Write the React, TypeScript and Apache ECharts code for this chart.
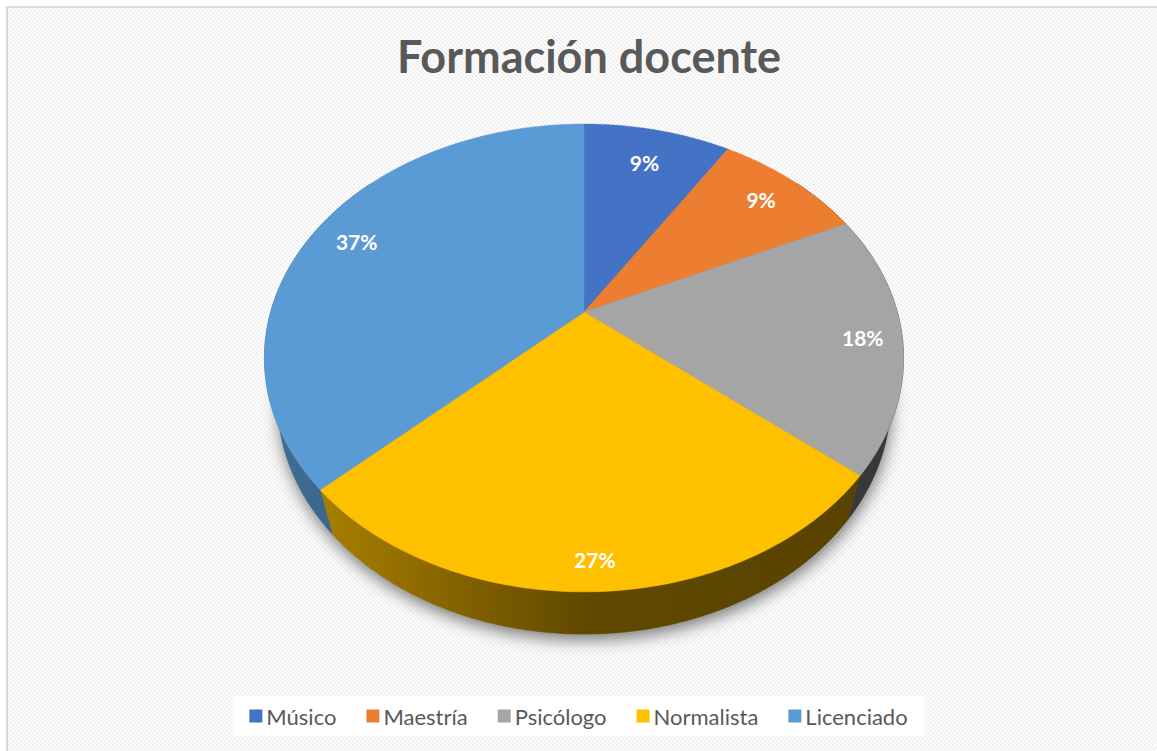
import React, { useEffect, useRef } from "react";
import * as echarts from "echarts";

// ---------- data ----------
const TITLE = "Formación docente";
const categories = ["Músico", "Maestría", "Psicólogo", "Normalista", "Licenciado"];
const values = [9, 9, 18, 27, 37];
const colors = ["#4472C4", "#ED7D31", "#A5A5A5", "#FFC000", "#5B9BD5"];

// ---------- 3D projection layout ----------
const CX = 584;
const CY = 312;
const FX = 1128;
const FY = 1145;
const DIST = 3.6;
const TILT = Math.PI / 4;
const THICK = 0.21;
const DEG = Math.PI / 180;

function project(r: number, phi: number, y: number): number[] {
  const x = r * Math.sin(phi);
  const z = r * Math.cos(phi);
  const ca = Math.cos(TILT);
  const sa = Math.sin(TILT);
  const yc = z * sa + y * ca;
  const depth = DIST + z * ca - y * sa;
  return [CX + (FX * x) / depth, CY - (FY * yc) / depth];
}

function arc(a0: number, a1: number, y: number): number[][] {
  const n = Math.max(2, Math.ceil((a1 - a0) / (0.5 * DEG)));
  const pts: number[][] = [];
  for (let k = 0; k <= n; k++) pts.push(project(1, a0 + ((a1 - a0) * k) / n, y));
  return pts;
}

function shade(hex: string, f: number): string {
  const n = parseInt(hex.slice(1), 16);
  const r = Math.round(((n >> 16) & 255) * f);
  const g = Math.round(((n >> 8) & 255) * f);
  const b = Math.round((n & 255) * f);
  return `rgb(${r},${g},${b})`;
}

const total = values.reduce((a, b) => a + b, 0);
const starts: number[] = [];
{
  let acc = 0;
  for (const v of values) {
    starts.push((acc / total) * 2 * Math.PI);
    acc += v;
  }
}

// striped background tile (4x4, diagonal "\" lines)
function stripeTile(): string {
  let rects = "";
  for (let y = 0; y < 4; y++) {
    for (let x = 0; x < 4; x++) {
      const m = (((x - y) % 4) + 4) % 4;
      if (m === 0 || m === 1) rects += `<rect x='${x}' y='${y}' width='1' height='1' fill='%23efefef'/>`;
    }
  }
  return `url("data:image/svg+xml;utf8,<svg xmlns='http://www.w3.org/2000/svg' width='4' height='4' shape-rendering='crispEdges'><rect width='4' height='4' fill='white'/>${rects}</svg>")`;
}

export default function App() {
  const ref = useRef<HTMLDivElement>(null);
  useEffect(() => {
    if (!ref.current) return;
    const chart = echarts.init(ref.current, undefined, { renderer: "svg" });

    const sliceRange = (i: number) => {
      const a0 = starts[i];
      const a1 = a0 + (values[i] / total) * 2 * Math.PI;
      return [a0, a1];
    };

    const shadowSeries: any = {
      type: "custom",
      name: "shadow",
      coordinateSystem: "none",
      z: 1,
      silent: true,
      data: [0],
      renderItem: () => {
        const pts = arc(0, 2 * Math.PI, -THICK);
        return {
          type: "polygon",
          shape: { points: pts },
          style: {
            fill: "#777",
            shadowBlur: 16,
            shadowOffsetY: 6,
            shadowOffsetX: 1,
            shadowColor: "rgba(0,0,0,0.5)",
          },
        };
      },
    };

    const sideSeries: any = {
      type: "custom",
      name: "sides",
      coordinateSystem: "none",
      z: 2,
      silent: true,
      data: values.map((v) => v),
      renderItem: (params: any) => {
        const i = params.dataIndex;
        let [a0, a1] = sliceRange(i);
        const lo = 50 * DEG;
        const hi = 310 * DEG;
        a0 = Math.max(a0, lo);
        a1 = Math.min(a1, hi);
        if (a1 <= a0) return { type: "group", children: [] };
        const top = arc(a0, a1, 0);
        const bot = arc(a0, a1, -THICK).reverse();
        const c = colors[i];
        const grad = new echarts.graphic.LinearGradient(
          265,
          0,
          903,
          0,
          [
            { offset: 0, color: shade(c, 0.72) },
            { offset: 0.5, color: shade(c, 0.38) },
            { offset: 1, color: shade(c, 0.34) },
          ],
          true
        );
        return {
          type: "polygon",
          shape: { points: top.concat(bot) },
          style: { fill: grad, stroke: grad, lineWidth: 0.6 },
        };
      },
    };

    const topSeries: any[] = categories.map((name, i) => ({
      type: "custom",
      name,
      coordinateSystem: "none",
      z: 3,
      itemStyle: { color: colors[i] },
      data: [values[i]],
      renderItem: () => {
        const [a0, a1] = sliceRange(i);
        const pts = [project(0, 0, 0)].concat(arc(a0, a1, 0));
        return {
          type: "polygon",
          shape: { points: pts },
          style: { fill: colors[i], stroke: colors[i], lineWidth: 0.5 },
        };
      },
    }));

    const labelSeries: any = {
      type: "custom",
      name: "labels",
      coordinateSystem: "none",
      z: 4,
      silent: true,
      data: values.map((v) => v),
      renderItem: (params: any, api: any) => {
        const i = params.dataIndex;
        const v = api.value(0);
        const [a0, a1] = sliceRange(i);
        const mid = (a0 + a1) / 2;
        const rim = project(1, mid, 0);
        const dx = CX - rim[0];
        const dy = CY - rim[1];
        const len = Math.hypot(dx, dy);
        const ux = dx / len;
        const uy = dy / len;
        const txt = Math.round((v / total) * 100) + "%";
        const hw = txt.length * 5.8;
        const hh = 9;
        const d = 22 + hw * Math.abs(ux) + hh * Math.abs(uy);
        return {
          type: "text",
          x: rim[0] + ux * d,
          y: rim[1] + uy * d,
          style: {
            text: txt,
            fill: "#ffffff",
            font: "bold 21px Lato",
            align: "center",
            verticalAlign: "middle",
          },
        };
      },
    };

    chart.setOption({
      animation: false,
      backgroundColor: "transparent",
      title: {
        text: TITLE,
        left: 584,
        textAlign: "center",
        top: 28,
        textStyle: {
          fontFamily: "Lato",
          fontWeight: "bold",
          fontSize: 45,
          color: "#595959",
        },
      },
      legend: {
        data: categories,
        top: 696,
        left: "center",
        icon: "rect",
        itemWidth: 13,
        itemHeight: 13,
        itemGap: 30,
        itemStyle: { borderWidth: 0 },
        backgroundColor: "#ffffff",
        padding: [9, 16],
        textStyle: { fontFamily: "Lato", fontSize: 22, color: "#595959", padding: [0, 0, 0, -1] },
        selectedMode: false,
      },
      series: [shadowSeries, sideSeries, ...topSeries, labelSeries],
    });
    return () => chart.dispose();
  }, []);

  return (
    <div
      style={{
        position: "absolute",
        left: 0,
        top: 0,
        width: 1157,
        height: 751,
        background: "#ffffff",
        overflow: "hidden",
      }}
    >
      <div
        style={{
          position: "absolute",
          left: 6,
          top: 6,
          width: 1200,
          height: 800,
          borderLeft: "2px solid #d9d9d9",
          borderTop: "2px solid #d9d9d9",
          backgroundImage: stripeTile(),
          backgroundRepeat: "repeat",
        }}
      />
      <div ref={ref} style={{ position: "absolute", left: 0, top: 0, width: 1157, height: 751 }} />
    </div>
  );
}
